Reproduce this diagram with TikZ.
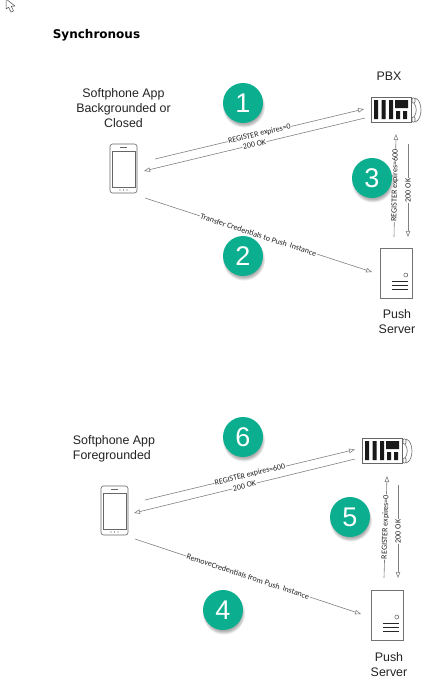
\documentclass[tikz,border=0pt]{standalone}
\usepackage{fontspec}
\setmainfont{Liberation Sans}
\newfontfamily\labelfont{Carlito}
\newfontfamily\titlefont{DejaVu Sans}
\usetikzlibrary{arrows.meta}
\definecolor{badge}{HTML}{0BAE8E}
\definecolor{wire}{HTML}{808080}
\definecolor{ink}{HTML}{222222}
\tikzset{
  x=1pt,y=-1pt,
  caption/.style={align=center,font=\fontsize{12.4}{15}\selectfont,text=ink,inner sep=0pt},
  labelbase/.style={midway,fill=white,inner sep=0.6pt,font=\labelfont\fontsize{8}{9}\selectfont,text=ink},
  wirelabel/.style={labelbase,sloped},
  uplabel/.style={labelbase,rotate=90},
  msg/.style={draw=wire,line width=0.6pt},
  msgarrow/.style={msg,-{Triangle[open,length=6pt,width=4.5pt]}},
  numbadge/.style={circle,minimum size=40pt,inner sep=0pt,fill=badge,text=white,font=\fontsize{27}{27}\selectfont},
  pics/phoneicon/.style={code={
    \draw[draw=black!60,line width=0.6pt,rounded corners=2.5pt] (0,0) rectangle (27,49);
    \draw[draw=black!60,line width=0.5pt] (2,7) rectangle (25,43.5);
    \draw[draw=black!60,line width=0.7pt] (10,3.8) -- (17,3.8);
    \fill[black!70] (10,46) circle (0.7pt) (13.5,46) circle (0.7pt) (17,46) circle (0.7pt);
  }},
  pics/pbxicon/.style={code={
    \draw[draw=black!60,line width=0.7pt,fill=white] (0,0) rectangle (40,25);
    \fill[black!90] (3,3) rectangle (7,22) (10.5,3) rectangle (14.5,22) (18,3) rectangle (22,22);
    \fill[black!90] (24,3) rectangle (37,11) (25,14) rectangle (29,22) (32,14) rectangle (36,22);
    \draw[draw=black!60,line width=0.6pt,rounded corners=1pt] (41,1) rectangle (44,6) (41,20) rectangle (44,25);
    \draw[draw=black!60,line width=0.6pt] (44,1) .. controls (52,3) and (52,23) .. (44,25);
    \draw[draw=black!60,line width=0.6pt] (43,6) .. controls (46,10) and (46,16) .. (43,20);
  }},
  pics/servericon/.style={code={
    \draw[draw=black!55,line width=0.7pt,fill=white] (0,0) rectangle (32,50);
    \draw[draw=black!65,line width=0.5pt] (25.8,27) circle (2pt);
    \draw[black!85,line width=0.9pt] (12,33) -- (28,33) (12,37) -- (28,37) (12,41) -- (28,41);
  }},
}
\begin{document}
\begin{tikzpicture}
\useasboundingbox (0,0) rectangle (424,685);
% cursor
\draw[draw=black!70,line width=0.5pt,fill=white,line join=round] (6,-1) -- (6,9) -- (8.6,7.2) -- (11,12) -- (13.5,11) -- (11.3,6.3) -- (15,6) -- cycle;
\node[inner sep=0pt,font=\titlefont\bfseries\fontsize{12}{13}\selectfont] (title) at (96.5,35) {Synchronous};

% ---------- upper scenario
\node[caption] (appA) at (123.5,108) {Softphone App\\Backgrounded or\\Closed};
\pic (phoneA) at (110,144) {phoneicon};
\node[caption] (pbxA) at (389,76) {PBX};
\pic (switchA) at (371,97) {pbxicon};
\pic (serverA) at (380,248) {servericon};
\node[caption] (pushA) at (397,321.5) {Push\\Server};

\coordinate (a1s) at (155,159); \coordinate (a1e) at (364,109);
\coordinate (a2s) at (365,118); \coordinate (a2e) at (144,171);
\coordinate (a3s) at (145,198); \coordinate (a3e) at (372,272);
\coordinate (a4s) at (394,237); \coordinate (a4e) at (396,134);
\coordinate (a5s) at (408,144); \coordinate (a5e) at (408,237);
\draw[msgarrow] (a1s) -- node[wirelabel] (la1) {REGISTER expires=0} (a1e);
\draw[msgarrow] (a2s) -- node[wirelabel] (la2) {200 OK} (a2e);
\draw[msgarrow] (a3s) -- node[wirelabel] (la3) {Transfer Credentials to Push\ \ Instance} (a3e);
\draw[msgarrow] (a4s) -- node[wirelabel] (la4) {REGISTER expires=600} (a4e);
\draw[msgarrow] (a5s) -- node[uplabel] (la5) {200 OK} (a5e);

% ---------- lower scenario
\node[caption,align=left] (appB) at (114,449) {Softphone App\\Foregrounded};
\pic (phoneB) at (101,486) {phoneicon};
\pic (switchB) at (362,438) {pbxicon};
\pic (serverB) at (371,590) {servericon};
\node[caption] (pushB) at (389,664.5) {Push\\Server};

\coordinate (b1s) at (145,500); \coordinate (b1e) at (355,449.5);
\coordinate (b2s) at (355,459); \coordinate (b2e) at (134,513);
\coordinate (b3s) at (135,539); \coordinate (b3e) at (361,614);
\coordinate (b4s) at (384,578); \coordinate (b4e) at (387,476);
\coordinate (b5s) at (398,485); \coordinate (b5e) at (398,578);
\draw[msgarrow] (b1s) -- node[wirelabel] (lb1) {REGISTER expires=600} (b1e);
\draw[msgarrow] (b2s) -- node[wirelabel] (lb2) {200 OK} (b2e);
\draw[msgarrow] (b3s) -- node[wirelabel] (lb3) {RemoveCredentials from Push\ \ Instance} (b3e);
\draw[msgarrow] (b4s) -- node[wirelabel] (lb4) {REGISTER expires=0} (b4e);
\draw[msgarrow] (b5s) -- node[uplabel] (lb5) {200 OK} (b5e);

% ---------- badges with soft shadows
\foreach \px/\py/\num in {243/103/1, 243/256/2, 372/178/3, 223/610/4, 350/517/5, 243/437/6}{
  \foreach \rr in {21,20,19,18}{
    \fill[black,opacity=0.09] (\px+1,\py+3.5) circle (\rr pt);
  }
  \node[numbadge] (badge\num) at (\px,\py) {\num};
}
\end{tikzpicture}
\end{document}
